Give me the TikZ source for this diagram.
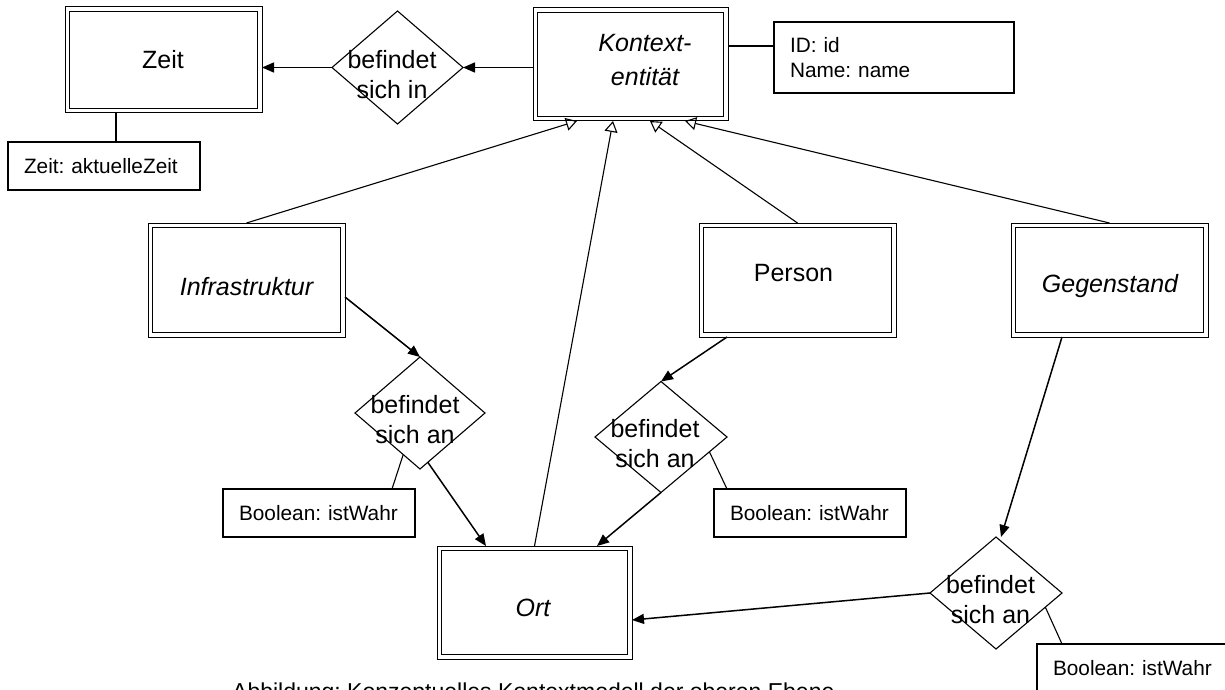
\documentclass[tikz,border=0pt]{standalone}
\usepackage{fontspec}
\setmainfont{Liberation Sans}
\usetikzlibrary{arrows.meta,shapes.geometric}
\newcommand\myEntFont{\fontsize{25}{30}\selectfont}
\newcommand\myRelFont{\fontsize{25}{30}\selectfont}
\newcommand\myAttrFont{\fontsize{20.8}{25}\selectfont}
\newcommand\myCapFont{\fontsize{23}{27}\selectfont}
\begin{document}
\frenchspacing
\hyphenpenalty=10000
\begin{tikzpicture}[x=1pt,y=-1pt,
  entity/.style={draw, line width=1pt, inner sep=0pt, outer sep=0pt},
  inner/.style={line width=1.8pt},
  rel/.style={draw, shape=diamond, inner sep=0pt, outer sep=0pt, line width=1.1pt},
  attr/.style={draw, line width=1.1pt, minimum height=48pt, text width=160pt, inner xsep=16pt, inner ysep=0pt, align=left, font=\myAttrFont, outer sep=0pt},
  etext/.style={font=\myEntFont, inner sep=0pt},
  rtext/.style={font=\myRelFont, align=center, inner sep=0pt},
  assoc/.style={line width=1.5pt, -{Triangle[length=12pt, width=10pt]}},
  isa/.style={line width=1.1pt, -{Triangle[open, length=11pt, width=13pt, line width=1.1pt]}},
  link/.style={line width=1.1pt}
]
\useasboundingbox (0,0) rectangle (1225,690);
\fill[white] (0,0) rectangle (1225,690);

% entities
\node[entity, minimum width=197pt, minimum height=106pt] (zeit) at (163.5,60) {};
\node[etext] (zeitT) at (163,60) {Zeit};
\node[entity, minimum width=195pt, minimum height=113pt] (kon) at (630.5,64.5) {};
\node[etext, align=center, font=\fontsize{25}{34}\selectfont\itshape] (konT) at (645,60) {Kontext-\\entität};
\node[entity, minimum width=197pt, minimum height=114pt] (infra) at (246.5,280) {};
\node[etext, font=\myEntFont\itshape] (infraT) at (246.5,287) {Infrastruktur};
\node[entity, minimum width=197pt, minimum height=114pt] (person) at (797.5,280) {};
\node[etext] (personT) at (793.5,273) {Person};
\node[entity, minimum width=197pt, minimum height=114pt] (gegen) at (1109.5,280) {};
\node[etext, font=\myEntFont\itshape] (gegenT) at (1110,286) {Gegenstand};
\node[entity, minimum width=195pt, minimum height=113pt] (ort) at (534.5,602.5) {};
\node[etext, font=\myEntFont\itshape] (ortT) at (533,608) {Ort};
\foreach \n in {zeit,kon,infra,person,gegen,ort}
  \draw[inner] ([shift={(4.5pt,-4.5pt)}]\n.north west) rectangle ([shift={(-4.5pt,4.5pt)}]\n.south east);

% relationships
\node[rel, minimum width=131pt, minimum height=113pt] (d1) at (397.5,67.5) {};
\node[rtext] (d1T) at (392,74.5) {befindet\\sich in};
\node[rel, minimum width=130pt, minimum height=112pt] (d2) at (420,413) {};
\node[rtext] (d2T) at (415,420) {befindet\\sich an};
\node[rel, minimum width=132pt, minimum height=111pt] (d3) at (661,437) {};
\node[rtext] (d3T) at (655,444) {befindet\\sich an};
\node[rel, minimum width=132pt, minimum height=112pt] (d4) at (996,593) {};
\node[rtext] (d4T) at (990.5,600) {befindet\\sich an};

% attributes
\node[attr] (za) at (104,166) {Zeit: aktuelleZeit};
\node[attr, minimum height=71pt, text width=208pt] (ka) at (894,57.5) {ID: id\\Name: name};
\node[attr] (ia) at (319,513) {Boolean: istWahr};
\node[attr] (pa) at (810,513) {Boolean: istWahr};
\node[attr] (ga) at (1133,668) {Boolean: istWahr};

% caption
\node[font=\myCapFont, anchor=base west, inner sep=0pt] (cap) at (232,699.5) {Abbildung: Konzeptuelles Kontextmodell der oberen Ebene};

% helper coordinates
\coordinate (zaC) at ([xshift=12pt]za.north);
\coordinate (kaC) at ([yshift=11.5pt]ka.west);

% connectors
\draw[assoc] (d1.west) -- (zeit.east |- d1.west);
\draw[assoc] (kon.west |- d1.east) -- (d1.east);
\draw[link] (zaC) -- (zaC |- zeit.south);
\draw[link] (kon.east |- kaC) -- (kaC);

\draw[isa] (infra.north) -- ([xshift=-53.5pt]kon.south);
\draw[isa] (ort.north) -- ([xshift=-17.5pt]kon.south);
\draw[isa] (person.north) -- ([xshift=19.5pt]kon.south);
\draw[isa] (gegen.north) -- ([xshift=54.5pt]kon.south);

\draw[assoc] ([yshift=-17pt]infra.east) -- (d2.north);
\draw[assoc] (d2.-81) -- ([xshift=-48.5pt]ort.north);
\draw[link] (d2.-112) -- ([xshift=73pt]ia.north);
\draw[assoc] ([xshift=-70.5pt]person.south) -- (d3.north);
\draw[assoc] (d3.south) -- ([xshift=62.5pt]ort.north);
\draw[link] (d3.-17) -- ([xshift=-83pt]pa.north);
\draw[assoc] ([xshift=-47.5pt]gegen.south) -- ([xshift=5pt]d4.north);
\draw[assoc] (d4.west) -- ([yshift=-17.5pt]ort.east);
\draw[link] (d4.-16) -- ([xshift=-71pt]ga.north);
\end{tikzpicture}
\end{document}
